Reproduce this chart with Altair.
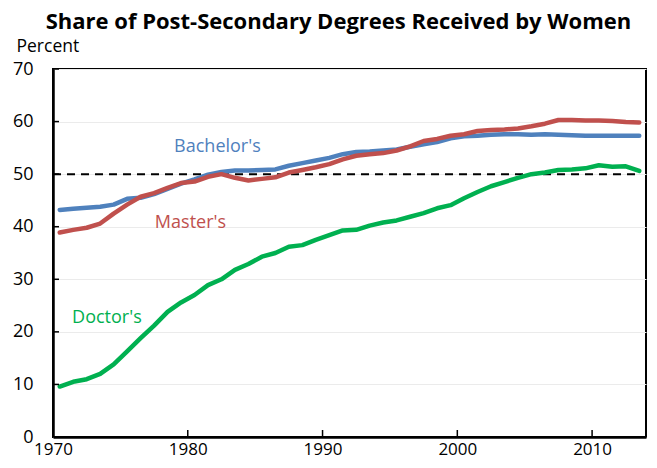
import altair as alt
import pandas as pd

years = list(range(1970, 2014))
bachelors = [43.2, 43.4, 43.6, 43.8, 44.2, 45.3, 45.5, 46.2, 47.2, 48.2,
             49.0, 49.9, 50.4, 50.7, 50.7, 50.8, 50.9, 51.6, 52.1, 52.6,
             53.1, 53.8, 54.2, 54.3, 54.5, 54.7, 55.2, 55.7, 56.1, 56.8,
             57.2, 57.3, 57.5, 57.6, 57.6, 57.5, 57.6, 57.5, 57.4, 57.3,
             57.3, 57.3, 57.3, 57.3]
masters = [38.9, 39.4, 39.8, 40.6, 42.5, 44.2, 45.7, 46.4, 47.4, 48.3,
           48.6, 49.5, 50.0, 49.3, 48.8, 49.1, 49.4, 50.3, 50.8, 51.3,
           51.9, 52.8, 53.5, 53.8, 54.0, 54.5, 55.3, 56.3, 56.7, 57.3,
           57.6, 58.2, 58.4, 58.5, 58.7, 59.1, 59.6, 60.3, 60.3, 60.2,
           60.2, 60.1, 59.9, 59.8]
doctors = [9.6, 10.5, 11.0, 12.0, 13.8, 16.3, 18.8, 21.2, 23.8, 25.6,
           27.0, 28.9, 30.0, 31.8, 32.9, 34.3, 35.0, 36.2, 36.5, 37.5,
           38.4, 39.3, 39.4, 40.2, 40.8, 41.2, 41.9, 42.6, 43.5, 44.1,
           45.4, 46.6, 47.7, 48.5, 49.3, 50.0, 50.3, 50.8, 50.9, 51.1,
           51.7, 51.4, 51.5, 50.6]

series_names = ["Bachelor's", "Master's", "Doctor's"]
series_colors = ["#4F81BD", "#C0504D", "#00B050"]
label_years = [1982.2, 1980.2, 1974.0]
label_values = [55.2, 40.7, 22.6]

x_ticks = [1970, 1980, 1990, 2000, 2010]
y_ticks = [0, 10, 20, 30, 40, 50, 60, 70]
reference_value = 50

FONT = "Open Sans"
W, H = 593, 368

rows = []
for name, vals in zip(series_names, [bachelors, masters, doctors]):
    for y, v in zip(years, vals):
        rows.append({"year": y + 0.5, "value": v, "series": name})
df = pd.DataFrame(rows)

xs = alt.Scale(domain=[1970, 2014], nice=False, zero=False)
ys = alt.Scale(domain=[0, 70], nice=False)
color_scale = alt.Scale(domain=series_names, range=series_colors)

lines = alt.Chart(df).mark_line(strokeWidth=4.5, strokeCap="round", strokeJoin="round").encode(
    x=alt.X("year:Q", scale=xs,
            axis=alt.Axis(values=x_ticks, format="d", title=None, grid=False,
                          ticks=False, labelPadding=4, labelFontSize=17,
                          labelFlush=False,
                          labelFont=FONT, labelColor="black",
                          domainColor="black", domainWidth=2.5)),
    y=alt.Y("value:Q", scale=ys,
            axis=alt.Axis(values=y_ticks, title="Percent", grid=True,
                          gridColor="#EBEBEB", gridWidth=1, ticks=False,
                          labelFlush=False,
                          labelPadding=20, labelFontSize=18, labelFont=FONT,
                          labelColor="black", domainColor="black",
                          domainWidth=2.5, titleAngle=0, titleX=-37,
                          titleY=-23, titleAlign="left",
                          titleBaseline="middle", titleFont=FONT,
                          titleFontSize=17.5, titleFontWeight="normal",
                          titleColor="black")),
    color=alt.Color("series:N", scale=color_scale, legend=None),
    detail="series:N",
)

ref_df = pd.DataFrame({"v": [reference_value], "x1": [1970], "x2": [2013.6]})
ref = alt.Chart(ref_df).mark_rule(color="black", strokeWidth=2, strokeDash=[8, 6]).encode(
    y=alt.Y("v:Q", scale=ys), x=alt.X("x1:Q", scale=xs), x2="x2:Q"
)

ytick_df = pd.DataFrame({"v": y_ticks[1:]})
yt = alt.Chart(ytick_df).mark_rule(color="black", strokeWidth=1.5).encode(
    y=alt.Y("v:Q", scale=ys), x=alt.value(0), x2=alt.value(6)
)
xtick_df = pd.DataFrame({"v": x_ticks[1:]})
xt = alt.Chart(xtick_df).mark_rule(color="black", strokeWidth=1.5).encode(
    x=alt.X("v:Q", scale=xs), y=alt.value(H), y2=alt.value(H - 7)
)

lab_df = pd.DataFrame({"x": label_years, "y": label_values, "series": series_names})
labels = alt.Chart(lab_df).mark_text(font=FONT, fontSize=18, align="center", baseline="middle").encode(
    x=alt.X("x:Q", scale=xs), y=alt.Y("y:Q", scale=ys), text="series:N",
    color=alt.Color("series:N", scale=color_scale, legend=None),
)

chart = alt.layer(ref, lines, labels, yt, xt).properties(
    width=W, height=H,
    title=alt.TitleParams("Share of Post-Secondary Degrees Received by Women",
                          font=FONT, fontSize=22, fontWeight="bold",
                          color="black", anchor="middle", dx=-11, offset=3),
    padding={"left": 45, "top": 61, "right": 3, "bottom": 23},
    autosize="none",
).configure_view(stroke="black", strokeWidth=2)

chart.save("out.html", embed_options={"renderer": "svg", "actions": False})
